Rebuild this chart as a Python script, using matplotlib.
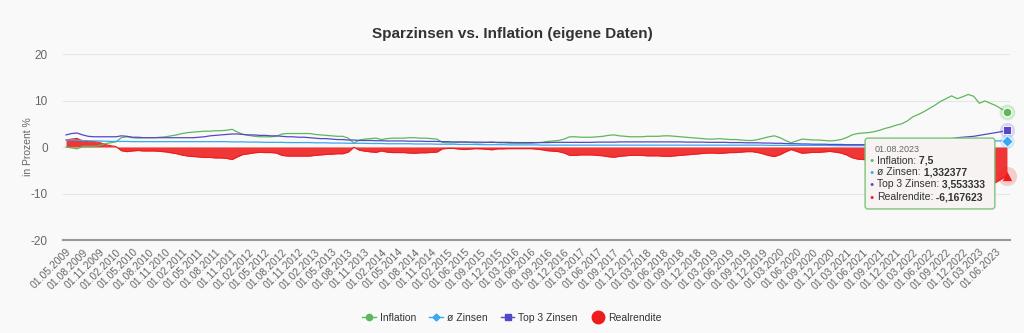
import numpy as np
import pandas as pd
import matplotlib
matplotlib.use("Agg")
import matplotlib.pyplot as plt
from matplotlib.lines import Line2D
from matplotlib.patches import FancyBboxPatch

plt.rcParams['font.family'] = ['Liberation Sans', 'DejaVu Sans']
plt.rcParams['axes.unicode_minus'] = False

# monthly values 01.05.2009 .. 01.08.2023, the source has no row for 01.04.2015
months = pd.date_range('2009-05-01', '2023-08-01', freq='MS')
months = months[months != pd.Timestamp('2015-04-01')]
labels = [d.strftime('%d.%m.%Y') for d in months]

inflation = [
    0.0, -0.2, -0.4, 0.1, 0.2, 0.1, 0.3, 0.7,                      # 2009
    0.9, 1.1, 2.0, 2.2, 2.0, 1.9, 2.0, 2.0, 2.0, 2.1, 2.2, 2.4,    # 2010
    2.6, 2.9, 3.1, 3.2, 3.3, 3.4, 3.4, 3.5, 3.5, 3.6, 3.8, 3.2,    # 2011
    2.7, 2.5, 2.3, 2.2, 2.2, 2.2, 2.3, 2.8, 2.9, 2.9, 2.9, 2.9,    # 2012
    2.9, 2.7, 2.6, 2.5, 2.4, 2.3, 2.3, 1.9, 0.85, 1.5, 1.7, 1.8,   # 2013
    1.9, 1.6, 1.8, 1.9, 1.9, 1.9, 2.0, 2.0, 1.9, 1.9, 1.8, 1.7,    # 2014
    1.0, 0.9, 0.9, 1.0, 1.1, 1.0, 0.9, 0.9, 1.0, 1.1, 0.9,         # 2015
    0.9, 0.8, 0.8, 0.8, 0.8, 0.8, 0.9, 1.0, 1.2, 1.3, 1.4, 1.7,    # 2016
    2.2, 2.2, 2.1, 2.1, 2.1, 2.2, 2.3, 2.5, 2.6, 2.4, 2.3, 2.2,    # 2017
    2.2, 2.2, 2.3, 2.3, 2.3, 2.4, 2.4, 2.3, 2.2, 2.1, 2.0, 1.9,    # 2018
    1.8, 1.7, 1.7, 1.8, 1.7, 1.6, 1.6, 1.5, 1.4, 1.4, 1.6, 1.9,    # 2019
    2.2, 2.4, 2.0, 1.4, 0.9, 1.3, 1.7, 1.6, 1.5, 1.5, 1.4, 1.3,    # 2020
    1.4, 1.6, 2.0, 2.6, 2.9, 3.0, 3.1, 3.3, 3.6, 4.0, 4.3, 4.7,    # 2021
    5.0, 5.6, 6.5, 7.0, 7.6, 8.3, 9.0, 9.8, 10.4, 11.0, 10.4, 10.8,  # 2022
    11.3, 10.9, 9.4, 9.9, 9.4, 8.9, 8.2, 7.5,                      # 2023
]
zinsen = [
    1.50, 1.50, 1.45, 1.40, 1.35, 1.30, 1.30, 1.25,
    1.20, 1.20, 1.20, 1.20, 1.15, 1.15, 1.15, 1.15, 1.15, 1.15, 1.15, 1.15,
    1.15, 1.15, 1.15, 1.15, 1.15, 1.15, 1.15, 1.15, 1.15, 1.15, 1.10, 1.10,
    1.10, 1.05, 1.05, 1.05, 1.00, 1.00, 1.00, 1.00, 0.95, 0.95, 0.95, 0.95,
    0.95, 0.90, 0.90, 0.90, 0.85, 0.85, 0.85, 0.80, 0.80, 0.80, 0.80, 0.75,
    0.75, 0.75, 0.70, 0.70, 0.70, 0.70, 0.70, 0.65, 0.65, 0.65, 0.65, 0.60,
    0.60, 0.60, 0.60, 0.55, 0.55, 0.55, 0.55, 0.50, 0.50, 0.50, 0.50,
    0.50, 0.45, 0.45, 0.45, 0.45, 0.45, 0.45, 0.40, 0.40, 0.40, 0.40, 0.40,
    0.40, 0.40, 0.40, 0.40, 0.40, 0.40, 0.40, 0.40, 0.40, 0.40, 0.40, 0.40,
    0.40, 0.40, 0.40, 0.40, 0.40, 0.40, 0.40, 0.40, 0.40, 0.40, 0.40, 0.40,
    0.40, 0.40, 0.40, 0.40, 0.40, 0.40, 0.40, 0.40, 0.40, 0.40, 0.40, 0.40,
    0.35, 0.35, 0.35, 0.35, 0.35, 0.35, 0.35, 0.35, 0.35, 0.35, 0.35, 0.35,
    0.30, 0.30, 0.30, 0.30, 0.30, 0.30, 0.30, 0.30, 0.30, 0.30, 0.30, 0.30,
    0.30, 0.30, 0.30, 0.35, 0.40, 0.45, 0.50, 0.55, 0.60, 0.70, 0.80, 0.90,
    1.00, 1.10, 1.15, 1.20, 1.25, 1.30, 1.32, 1.332377,
]
top3 = [
    2.6, 2.9, 3.0, 2.6, 2.3, 2.2, 2.2, 2.2,
    2.2, 2.2, 2.4, 2.3, 2.1, 2.1, 2.0, 2.0, 2.0, 2.0, 2.0, 2.0,
    2.0, 2.0, 2.0, 2.0, 2.1, 2.2, 2.4, 2.5, 2.6, 2.7, 2.8, 2.8,
    2.7, 2.6, 2.6, 2.5, 2.5, 2.4, 2.4, 2.3, 2.2, 2.2, 2.1, 2.1,
    2.0, 1.9, 1.8, 1.8, 1.7, 1.6, 1.6, 1.5, 1.5, 1.4, 1.4, 1.4,
    1.35, 1.35, 1.3, 1.3, 1.3, 1.3, 1.25, 1.25, 1.25, 1.2, 1.2, 1.2,
    1.15, 1.15, 1.1, 1.1, 1.05, 1.05, 1.05, 1.05, 1.0, 1.0, 1.0,
    1.0, 1.0, 0.95, 0.95, 0.95, 0.95, 0.95, 0.95, 0.95, 1.0, 1.0, 1.0,
    1.0, 1.0, 1.0, 1.0, 1.0, 1.05, 1.05, 1.05, 1.05, 1.1, 1.1, 1.1,
    1.1, 1.1, 1.1, 1.1, 1.1, 1.1, 1.1, 1.1, 1.1, 1.05, 1.05, 1.05,
    1.05, 1.0, 1.0, 1.0, 1.0, 0.95, 0.95, 0.95, 0.9, 0.9, 0.9, 0.85,
    0.85, 0.8, 0.8, 0.75, 0.7, 0.7, 0.65, 0.65, 0.6, 0.6, 0.6, 0.55,
    0.55, 0.55, 0.5, 0.5, 0.5, 0.5, 0.5, 0.5, 0.5, 0.5, 0.5, 0.5,
    0.5, 0.55, 0.6, 0.7, 0.8, 1.0, 1.2, 1.4, 1.6, 1.8, 2.0, 2.1,
    2.2, 2.3, 2.5, 2.7, 2.9, 3.1, 3.3, 3.553333,
]
realrendite = [
    1.50, 1.70, 1.85, 1.30, 1.15, 1.20, 1.00, 0.55,
    0.30, 0.10, -0.80, -1.00, -0.85, -0.75, -0.85, -0.85, -0.85, -0.95, -1.05, -1.25,
    -1.45, -1.75, -1.95, -2.05, -2.15, -2.25, -2.25, -2.35, -2.35, -2.45, -2.70, -2.10,
    -1.60, -1.45, -1.25, -1.15, -1.20, -1.20, -1.30, -1.80, -1.95, -1.95, -1.95, -1.95,
    -1.95, -1.80, -1.70, -1.60, -1.55, -1.45, -1.45, -1.10, -0.05, -0.70, -0.90, -1.05,
    -1.15, -0.85, -1.10, -1.20, -1.20, -1.20, -1.30, -1.35, -1.25, -1.25, -1.15, -1.10,
    -0.40, -0.30, -0.30, -0.45, -0.55, -0.45, -0.35, -0.40, -0.50, -0.60, -0.40,
    -0.40, -0.35, -0.35, -0.35, -0.35, -0.35, -0.45, -0.60, -0.80, -0.90, -1.00, -1.30,
    -1.80, -1.80, -1.70, -1.70, -1.70, -1.80, -1.90, -2.10, -2.20, -2.00, -1.90, -1.80,
    -1.80, -1.80, -1.90, -1.90, -1.90, -2.00, -2.00, -1.90, -1.80, -1.70, -1.60, -1.50,
    -1.40, -1.30, -1.30, -1.40, -1.30, -1.20, -1.20, -1.10, -1.00, -1.00, -1.20, -1.50,
    -1.85, -2.05, -1.65, -1.05, -0.55, -0.95, -1.35, -1.25, -1.15, -1.15, -1.05, -0.95,
    -1.10, -1.30, -1.70, -2.30, -2.60, -2.70, -2.80, -3.00, -3.30, -3.70, -4.00, -4.40,
    -4.70, -5.30, -6.20, -6.65, -7.20, -7.85, -8.50, -9.25, -9.80, -10.30, -9.60, -9.90,
    -10.30, -9.80, -8.25, -8.70, -8.15, -7.60, -6.88, -6.167623,
]

GREEN = '#5cb85c'
LBLUE = '#3aa8f0'
PURPLE = '#5548c8'
RED = '#ee1c1c'
BG = '#f9f9f9'
GREY = '#666666'

x = np.arange(len(months))

fig = plt.figure(figsize=(10.24, 3.33), dpi=100, facecolor=BG)
ax = fig.add_axes([63/1024, 93/333, 947/1024, 186/333])
ax.set_facecolor(BG)

ax.fill_between(x, 0, realrendite, color=RED, lw=0, alpha=0.88, zorder=2)
ax.plot(x, realrendite, color=RED, lw=0.8, zorder=2)
ax.plot(x, inflation, color=GREEN, lw=0.9, zorder=3)
ax.plot(x, zinsen, color=LBLUE, lw=0.9, zorder=3)
ax.plot(x, top3, color=PURPLE, lw=0.9, zorder=3)

# hover markers on the last point
last = len(x) - 1
ax.scatter(x[last], inflation[last], s=130, color=GREEN, alpha=0.25, lw=0, zorder=6, clip_on=False)
ax.scatter(x[last], inflation[last], s=40, color=GREEN, edgecolor='white', lw=0.8, zorder=7, clip_on=False)
ax.scatter(x[last], top3[last], s=120, color=PURPLE, alpha=0.2, lw=0, zorder=6, clip_on=False)
ax.scatter(x[last], top3[last], s=34, marker='s', color=PURPLE, edgecolor='white', lw=0.6, zorder=7, clip_on=False)
ax.scatter(x[last], zinsen[last], s=110, color=LBLUE, alpha=0.2, lw=0, zorder=6, clip_on=False)
ax.scatter(x[last], zinsen[last], s=34, marker='D', color=LBLUE, edgecolor='white', lw=0.6, zorder=7, clip_on=False)
ax.scatter(x[last], realrendite[last], s=190, color=RED, alpha=0.2, lw=0, zorder=6, clip_on=False)
ax.scatter(x[last], realrendite[last], s=45, marker='^', color=RED, lw=0, zorder=7, clip_on=False)

ax.set_xlim(-0.55, last + 0.55)
ax.set_ylim(-20, 20)
ax.set_yticks([-20, -10, 0, 10, 20])
ax.grid(axis='y', color='#e6e6e6', lw=0.8)
ax.set_axisbelow(True)
for s in ['left', 'right', 'top']:
    ax.spines[s].set_visible(False)
ax.spines['bottom'].set_color('#999999')
ax.spines['bottom'].set_linewidth(1.5)

ax.set_xticks(x[::3])
ax.set_xticklabels(labels[::3], rotation=45, ha='right', rotation_mode='anchor',
                   fontsize=7.5, color=GREY)
ax.tick_params(axis='x', length=0, pad=5)
ax.tick_params(axis='y', length=0, pad=11, labelsize=8.5, labelcolor=GREY)
ax.set_ylabel('in Prozent %', fontsize=7.5, color=GREY)
ax.yaxis.set_label_coords(-0.032, 0.5)

fig.text(0.5, 0.897, 'Sparzinsen vs. Inflation (eigene Daten)', ha='center', va='center',
         fontsize=11, fontweight='bold', color='#333333')

# tooltip
box = FancyBboxPatch((0.847, 0.167), 0.137, 0.381, transform=ax.transAxes,
                     boxstyle='round,pad=0,rounding_size=0.003', mutation_aspect=5.1,
                     fc='#f8f3f3', ec='#7dc47d', lw=1, zorder=8, clip_on=False)
ax.add_patch(box)
ax.text(0.8575, 0.488, labels[last], transform=ax.transAxes, fontsize=6.5,
        color=GREY, va='center', zorder=9)
rows = [('Inflation', inflation[last], GREEN), ('ø Zinsen', zinsen[last], LBLUE),
        ('Top 3 Zinsen', top3[last], PURPLE), ('Realrendite', realrendite[last], RED)]
ty = [0.425, 0.365, 0.301, 0.231]
for (name, val, col), yy in zip(rows, ty):
    ax.text(0.8535, yy, '\u25cf', transform=ax.transAxes, fontsize=5, color=col,
            va='center', ha='center', zorder=9)
    t = ax.text(0.8596, yy, name + ':', transform=ax.transAxes, fontsize=7.5,
                color='#333333', va='center', zorder=9)
    ax.annotate(' ' + str(val).replace('.', ','), xy=(1, 0.5), xycoords=t, va='center',
                fontsize=7.5, fontweight='bold', color='#333333', zorder=9)

handles = [
    Line2D([0], [0], color=GREEN, lw=1, marker='o', ms=4.5),
    Line2D([0], [0], color=LBLUE, lw=1, marker='D', ms=3.5),
    Line2D([0], [0], color=PURPLE, lw=1, marker='s', ms=4),
    Line2D([0], [0], color=RED, lw=0, marker='o', ms=9),
]
fig.legend(handles, ['Inflation', 'ø Zinsen', 'Top 3 Zinsen', 'Realrendite'],
           loc='center', bbox_to_anchor=(0.5, 0.045), ncol=4, frameon=False,
           fontsize=7.5, labelcolor='#333333', handlelength=1.3,
           columnspacing=1.3, handletextpad=0.35)

fig.savefig('out.png', dpi=100, facecolor=BG)
